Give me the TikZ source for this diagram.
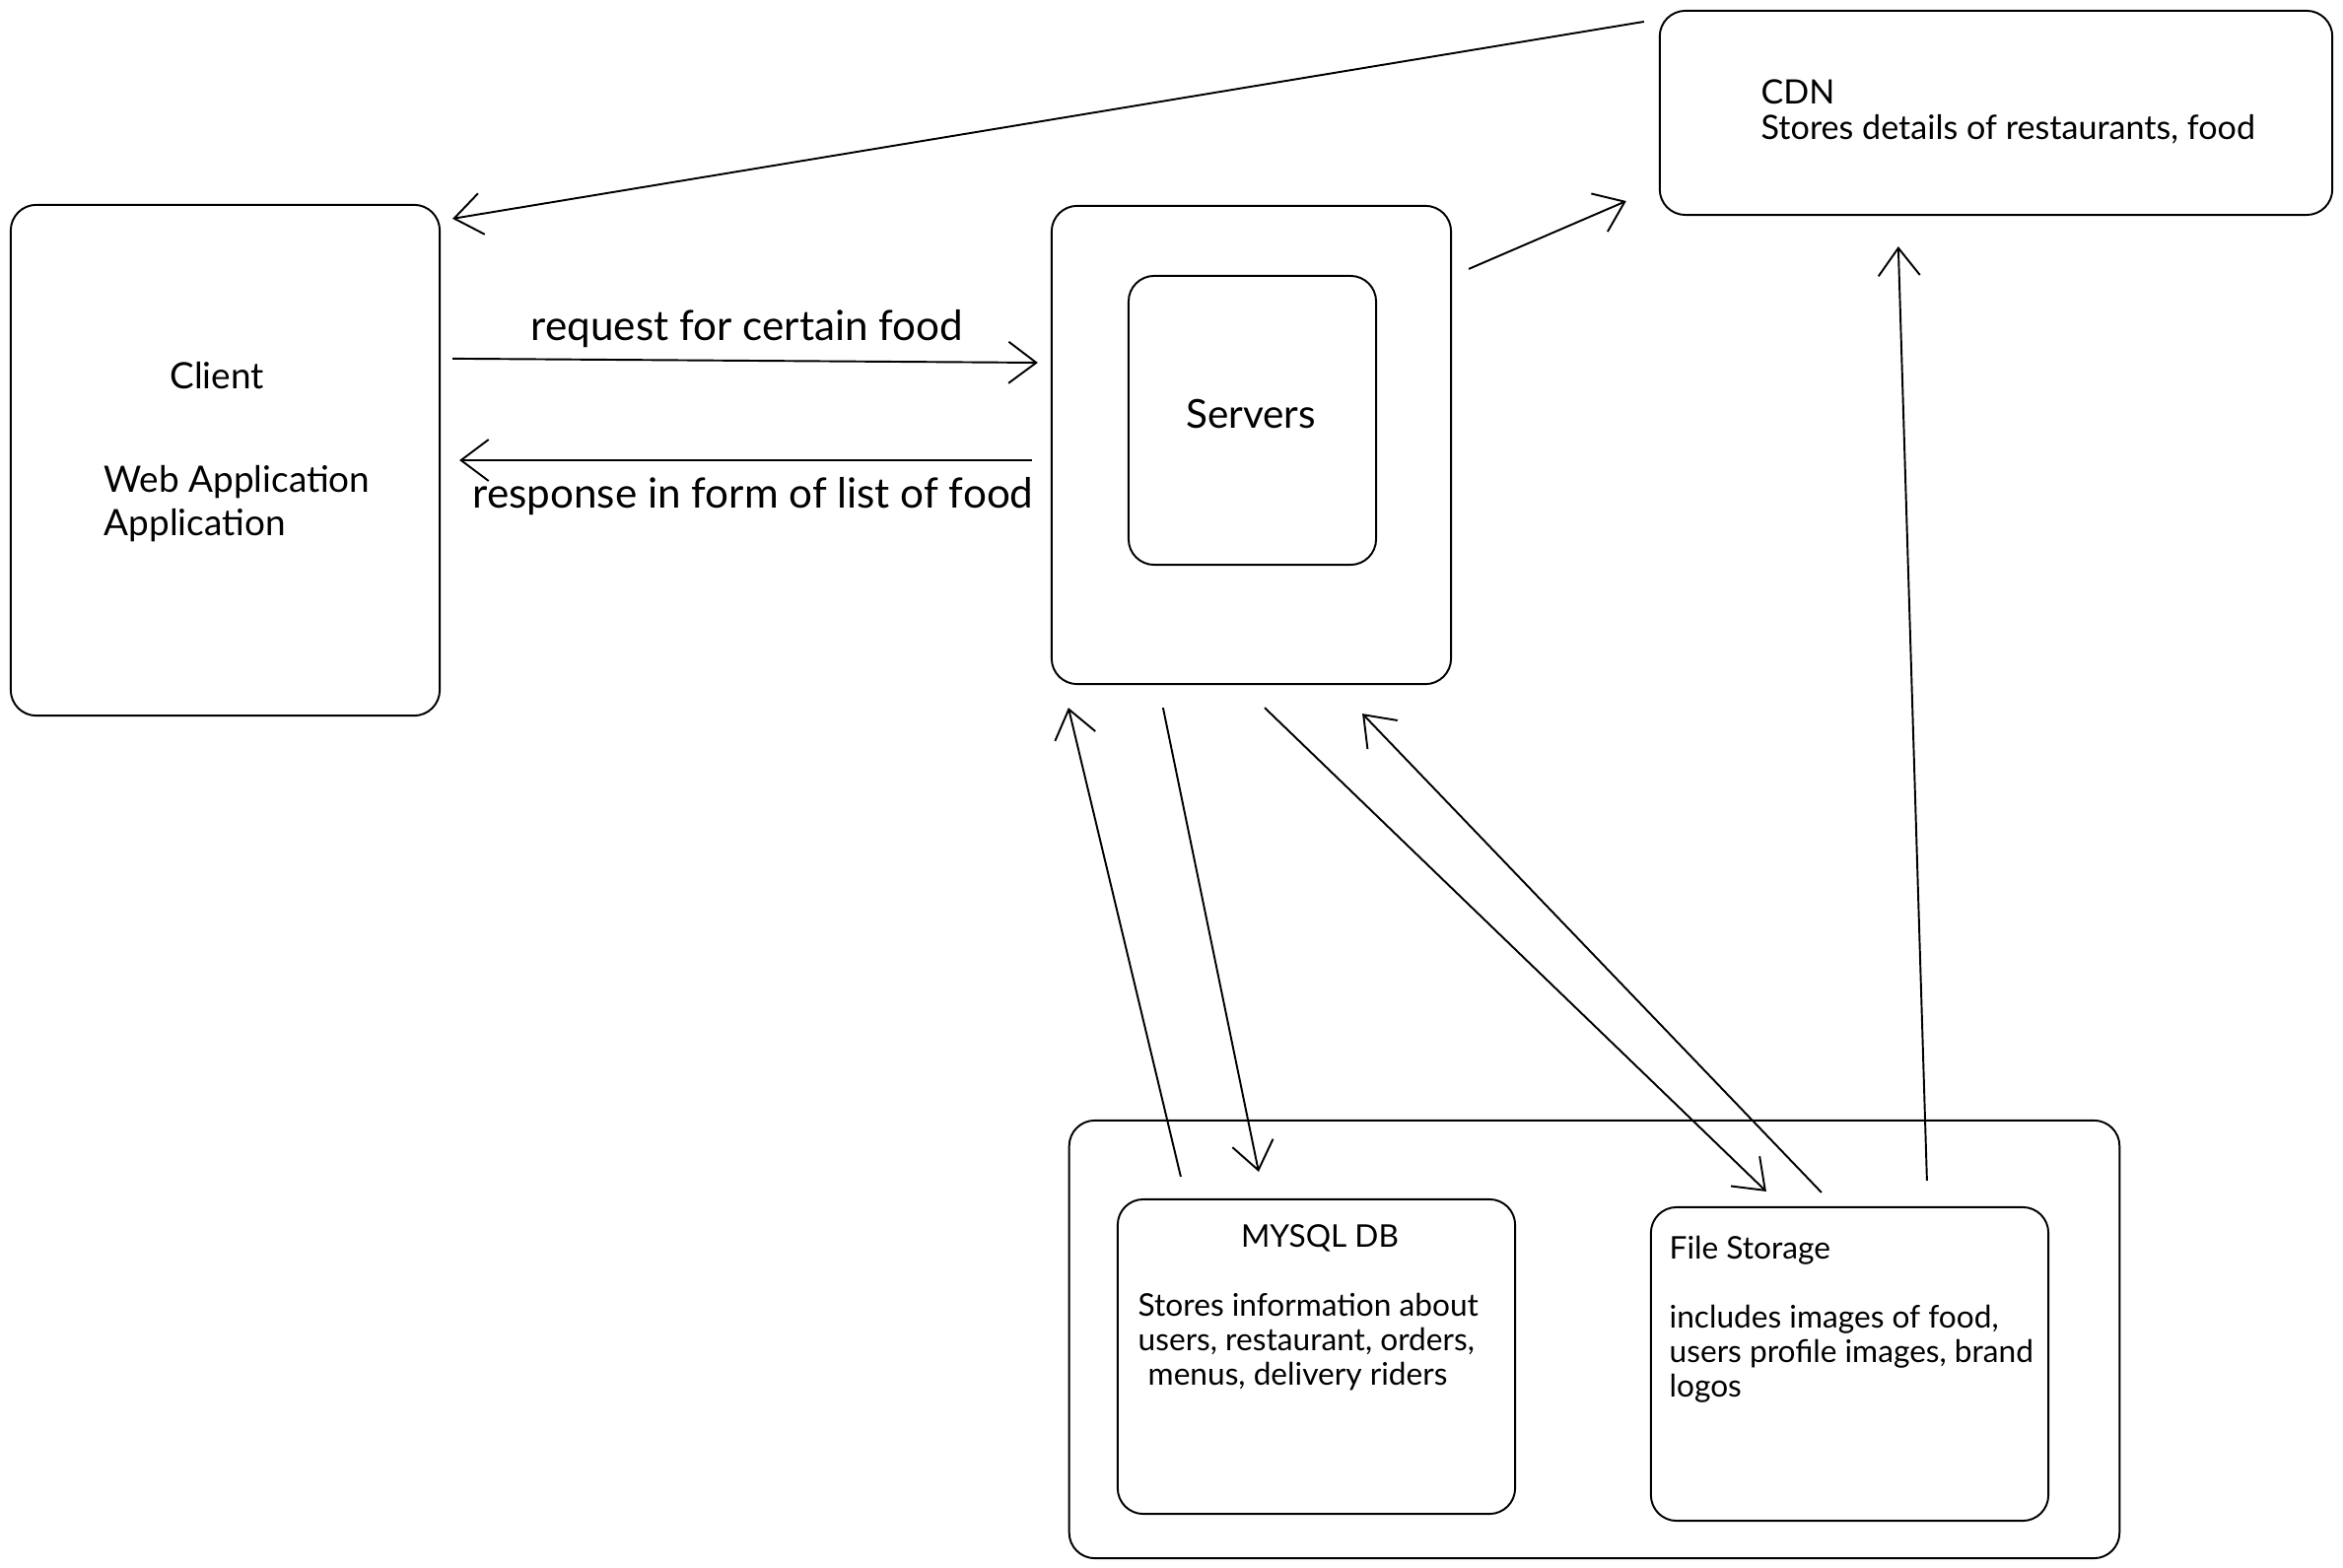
\documentclass[tikz,border=0pt]{standalone}
\usepackage{fontspec}
\setmainfont{Lato}
\usetikzlibrary{arrows.meta}
\usetikzlibrary{positioning}
\usetikzlibrary{calc}

\tikzset{
  box/.style={draw, rounded corners=2.6mm, line width=0.55pt, inner sep=0pt},
  arr/.style={line width=0.55pt, -{Straight Barb[length=2.8mm, width=4.2mm, line width=0.55pt]}},
  small/.style={font=\fontsize{9}{10}\selectfont, inner sep=0pt, align=left},
  big/.style={font=\fontsize{10.5}{12.5}\selectfont, inner sep=0pt, align=left}
}

\begin{document}
\begin{tikzpicture}[x=0.01cm, y=-0.01cm]
  \useasboundingbox (0,0) rectangle (2377,1591);

  \node[box, minimum width=4.35cm, minimum height=5.18cm] (client) at (228.5,467) {};
  \node[box, minimum width=4.05cm, minimum height=4.85cm] (servers) at (1269.5,451.5) {};
  \node[box, minimum width=2.51cm, minimum height=2.93cm] (srv) at (1270.5,426.5) {};
  \node[box, minimum width=6.82cm, minimum height=2.07cm] (cdn) at (2025,114.5) {};
  \node[box, minimum width=10.65cm, minimum height=4.44cm] (store) at (1617.5,1359) {};
  \node[box, minimum width=4.03cm, minimum height=3.19cm] (mysql) at (1335.5,1376.5) {};
  \node[box, minimum width=4.03cm, minimum height=3.18cm] (files) at (1876.5,1384) {};

  \node[big] (clientname) at (220,381) {Client};
  \node[big, anchor=north west] (clientapp) at (105,472) {Web Application\\Application};
  \node[big, font=\fontsize{12}{14}\selectfont] (reqlabel) at (758,334) {request for certain food};
  \node[big, font=\fontsize{12}{14}\selectfont] (reslabel) at (764,504) {response in form of list of food};
  \node[big, font=\fontsize{11.5}{14}\selectfont] (srvname) at (1269,420) {Servers};
  \node[small, font=\fontsize{9.7}{10.2}\selectfont, anchor=north west] (cdntext) at (1786,80)
    {CDN\\Stores details of restaurants, food};
  \node[small] (dbname) at (1339,1256) {MYSQL DB};
  \node[small, anchor=north west] (dbtext) at (1154,1311)
    {Stores information about\\users, restaurant, orders,\\\hspace*{1mm}menus, delivery riders};
  \node[small, anchor=north west] (filetext) at (1693,1253)
    {File Storage\\[10pt]includes images of food,\\users profile images, brand\\logos};

  \draw[arr] ([shift={(-15,12)}]cdn.north west) -- ([shift={(12,15)}]client.north east);
  \draw[arr] ([shift={(12,157)}]client.north east) -- ([shift={(-13,-83.5)}]servers.west);
  \draw[arr] ([shift={(-19,15.5)}]servers.west) -- ([shift={(19,0)}]client.east);
  \draw[arr] ([shift={(17,65)}]servers.north east) -- ([shift={(-33,-15)}]cdn.south west);
  \draw[arr] ([shift={(65,-22)}]mysql.north west) -- ([shift={(18,23)}]servers.south west);
  \draw[arr] ([shift={(114,23)}]servers.south west) -- ([shift={(144,-27)}]mysql.north west);
  \draw[arr] ([shift={(13.5,23)}]servers.south) -- ([shift={(118,-15)}]files.north west);
  \draw[arr] ([shift={(174,-14)}]files.north west) -- ([shift={(-91,29)}]servers.south east);
  \draw[arr] ([shift={(281,-26)}]files.north west) -- ([shift={(243,31)}]cdn.south west);
\end{tikzpicture}
\end{document}
